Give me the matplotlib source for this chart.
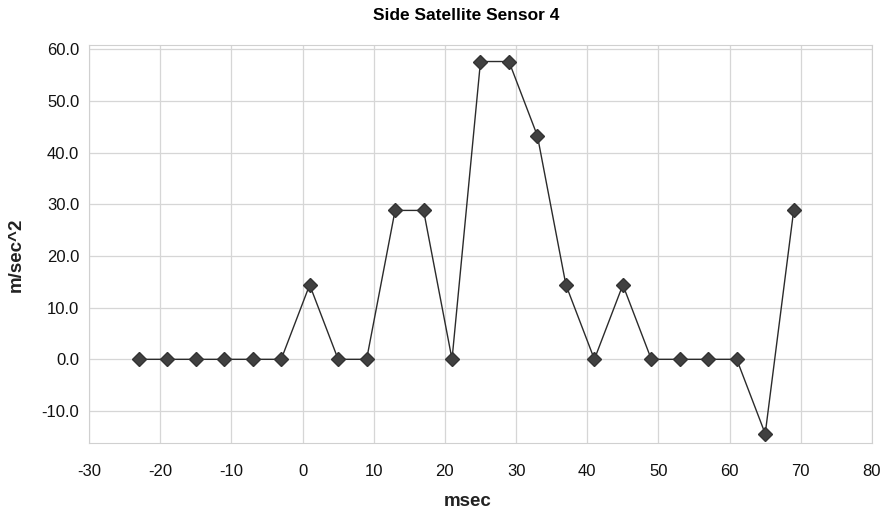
import matplotlib.pyplot as plt

plt.rcParams["font.family"] = ["Liberation Sans", "DejaVu Sans"]

# sample times (msec) and acceleration (m/sec^2)
time_ms = [-23, -19, -15, -11, -7, -3, 1, 5, 9, 13, 17, 21,
           25, 29, 33, 37, 41, 45, 49, 53, 57, 61, 65, 69]
accel = [0.0, 0.0, 0.0, 0.0, 0.0, 0.0, 14.4, 0.0, 0.0, 28.8, 28.8, 0.0,
         57.6, 57.6, 43.2, 14.4, 0.0, 14.4, 0.0, 0.0, 0.0, 0.0, -14.4, 28.8]

x_ticks = [-30, -20, -10, 0, 10, 20, 30, 40, 50, 60, 70, 80]
y_ticks = [-10, 0, 10, 20, 30, 40, 50, 60]

fig = plt.figure(figsize=(8.84, 5.14), dpi=100)
ax = fig.add_axes([0.1007, 0.138, 0.8857, 0.7745])

ax.plot(time_ms, accel, color="#2b2b2b", linewidth=1.0,
        marker="D", markersize=7, markerfacecolor="#404040",
        markeredgecolor="#333333", zorder=3)

ax.set_xlim(-30, 80)
ax.set_ylim(-16.2, 60.8)
ax.set_xticks(x_ticks)
ax.set_yticks(y_ticks)
ax.set_xticklabels([str(t) for t in x_ticks])
ax.set_yticklabels([f"{t:.1f}" for t in y_ticks])
ax.tick_params(length=0, labelsize=12, colors="#111111")
ax.tick_params(axis="x", pad=15)
ax.tick_params(axis="y", pad=7)

ax.grid(True, color="#d6d6d6", linewidth=0.9)
for side in ax.spines.values():
    side.set_color("#d0d0d0")

# titles sit a little left of the axes centre in the original
fig.text(466 / 884, 1 - 15 / 514, "Side Satellite Sensor 4",
         fontsize=12.5, fontweight="bold", ha="center", va="center")
fig.text(468 / 884, 1 - 502 / 514, "msec",
         fontsize=13.5, fontweight="bold", ha="center", va="center", color="#222222")
fig.text(16 / 884, 1 - 255 / 514, "m/sec^2", rotation=90,
         fontsize=13.5, fontweight="bold", ha="center", va="center", color="#222222")

fig.savefig("out.png", dpi=100)
